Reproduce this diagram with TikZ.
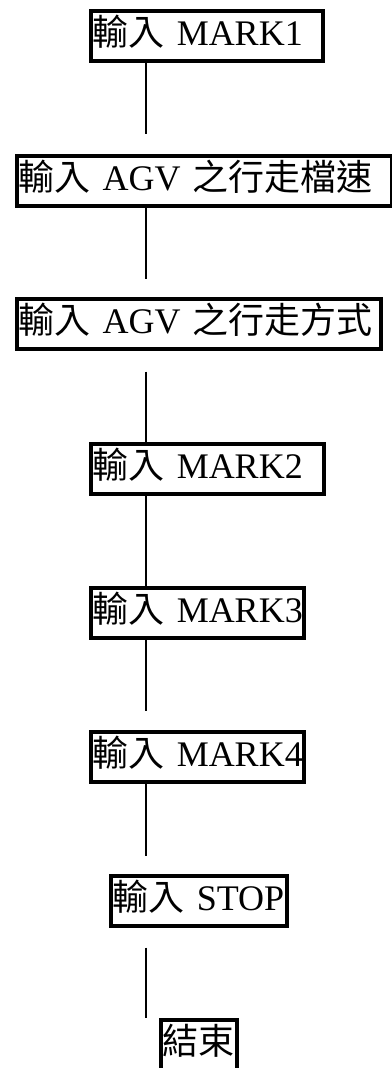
\documentclass[tikz,border=0pt]{standalone}
\usepackage{fontspec}
\setmainfont{Liberation Serif}
\newfontfamily\cjk{Noto Sans CJK TC}
\newcommand{\zh}[1]{{\cjk #1}}

\begin{document}
\begin{tikzpicture}[x=1pt,y=-1pt,
  inbox/.style={draw, line width=3.5pt, rectangle, anchor=north west,
    minimum height=50pt, inner xsep=2pt, inner ysep=0pt, align=left,
    text height=35pt, text depth=15pt,
    text width=#1, font=\fontsize{36}{38}\selectfont},
  link/.style={line width=1.5pt}]
  \useasboundingbox (0,0) rectangle (391,1068);
  \coordinate (spine) at (146,0);
  % Input steps
  \node[inbox=228pt] (mark1) at (89,9)    {\mbox{\zh{輸入} MARK1}};
  \node[inbox=371pt] (speed) at (15,154)  {\mbox{\zh{輸入} AGV \zh{之行走檔速}}};
  \node[inbox=360pt] (mode)  at (15,297)  {\mbox{\zh{輸入} AGV \zh{之行走方式}}};
  \node[inbox=229pt] (mark2) at (89,442)  {\mbox{\zh{輸入} MARK2}};
  \node[inbox=209pt] (mark3) at (89,586)  {\mbox{\zh{輸入} MARK3}};
  \node[inbox=209pt] (mark4) at (89,730)  {\mbox{\zh{輸入} MARK4}};
  \node[inbox=172pt] (stop)  at (109,874) {\mbox{\zh{輸入} STOP}};
  \node[inbox=72pt]  (finish) at (159,1018) {\mbox{\zh{結束}}};
  % Links
  \draw[link] (mark1.south -| spine) -- ++(0,71);
  \draw[link] (speed.south -| spine) -- ++(0,71);
  \draw[link] ([yshift=-21pt]mode.south -| spine) -- (mark2.north -| spine);
  \draw[link] (mark2.south -| spine) -- (mark3.north -| spine);
  \draw[link] (mark3.south -| spine) -- ++(0,71);
  \draw[link] (mark4.south -| spine) -- ++(0,72);
  \draw[link] ([yshift=-20pt]stop.south -| spine) -- (finish.north -| spine);
\end{tikzpicture}
\end{document}
